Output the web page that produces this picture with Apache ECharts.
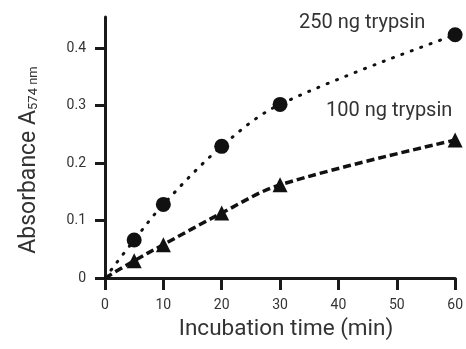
<!DOCTYPE html>
<html><head><meta charset="utf-8">
<script src="https://cdn.jsdelivr.net/npm/echarts@6/dist/echarts.min.js"></script>
<style>html,body{margin:0;padding:0;background:#fff}#c{width:466px;height:349px}</style>
</head><body><div id="c"></div>
<script>
const times = [0, 5, 10, 20, 30, 60];
const abs250 = [0, 0.066, 0.128, 0.229, 0.302, 0.423];
const abs100 = [0, 0.030, 0.058, 0.113, 0.162, 0.240];
const xTicks = [0, 10, 20, 30, 40, 50, 60];
const yTicks = [0, 0.1, 0.2, 0.3, 0.4];
const label250 = '250 ng trypsin';
const label100 = '100 ng trypsin';
const xTitle = 'Incubation time (min)';
const yTitle = 'Absorbance A{sub|574 nm}';

const pts = a => times.map((t, i) => [t, a[i]]);
const markers = a => times.map((t, i) => [t, a[i]]).filter(p => p[0] > 0);
const FONT = 'Roboto';
const chart = echarts.init(document.getElementById('c'), null, {renderer: 'canvas'});
chart.setOption({
  animation: false,
  backgroundColor: '#fff',
  grid: {left: 105, right: 8, top: 17, bottom: 71},
  xAxis: {
    type: 'value', min: 0, max: 60, interval: 10,
    name: xTitle, nameLocation: 'middle', nameGap: 40,
    nameTextStyle: {fontFamily: FONT, fontSize: 22.5, color: '#333', padding: [0, 0, 0, 12]},
    axisLine: {show: true, onZero: false, lineStyle: {color: '#1a1a1a', width: 3}},
    axisTick: {show: true, inside: false, length: 12, lineStyle: {color: '#1a1a1a', width: 3}, customValues: xTicks},
    axisLabel: {fontFamily: FONT, fontSize: 14, color: '#333', margin: 20, customValues: xTicks},
    splitLine: {show: false}
  },
  yAxis: {
    type: 'value', min: 0, max: 0.454,
    axisLine: {show: true, onZero: false, lineStyle: {color: '#1a1a1a', width: 3}},
    axisTick: {show: true, inside: false, length: 10, lineStyle: {color: '#1a1a1a', width: 3}, customValues: yTicks},
    axisLabel: {fontFamily: FONT, fontSize: 14, color: '#333', margin: 19, customValues: yTicks,
      formatter: v => v === 0 ? '0' : v.toFixed(1)},
    splitLine: {show: false}
  },
  graphic: [
    {type: 'text', x: 29, y: 160, rotation: Math.PI / 2,
      style: {text: yTitle, fontFamily: FONT, fontSize: 23, fill: '#333', align: 'center', verticalAlign: 'middle',
        rich: {sub: {fontFamily: FONT, fontSize: 13, fill: '#333', padding: [9, 0, 0, 0]}}}},
    {type: 'text', left: 299, top: 13, style: {text: label250, fontFamily: FONT, fontSize: 20, fill: '#333'}},
    {type: 'text', left: 326, top: 101, style: {text: label100, fontFamily: FONT, fontSize: 20, fill: '#333'}}
  ],
  series: [
    {type: 'line', data: pts(abs250), smooth: 0.35, showSymbol: false, z: 2,
      lineStyle: {color: '#111', width: 3, type: [1, 9], cap: 'round'}},
    {type: 'line', data: pts(abs100), smooth: 0.35, showSymbol: false, z: 2,
      lineStyle: {color: '#111', width: 3.5, type: [8, 4]}},
    {type: 'scatter', data: markers(abs250), symbol: 'circle', symbolSize: 15, z: 3,
      itemStyle: {color: '#111', opacity: 1}},
    {type: 'scatter', data: markers(abs100), symbol: 'triangle', symbolSize: 15, z: 3,
      itemStyle: {color: '#111', opacity: 1}}
  ]
});
</script></body></html>
